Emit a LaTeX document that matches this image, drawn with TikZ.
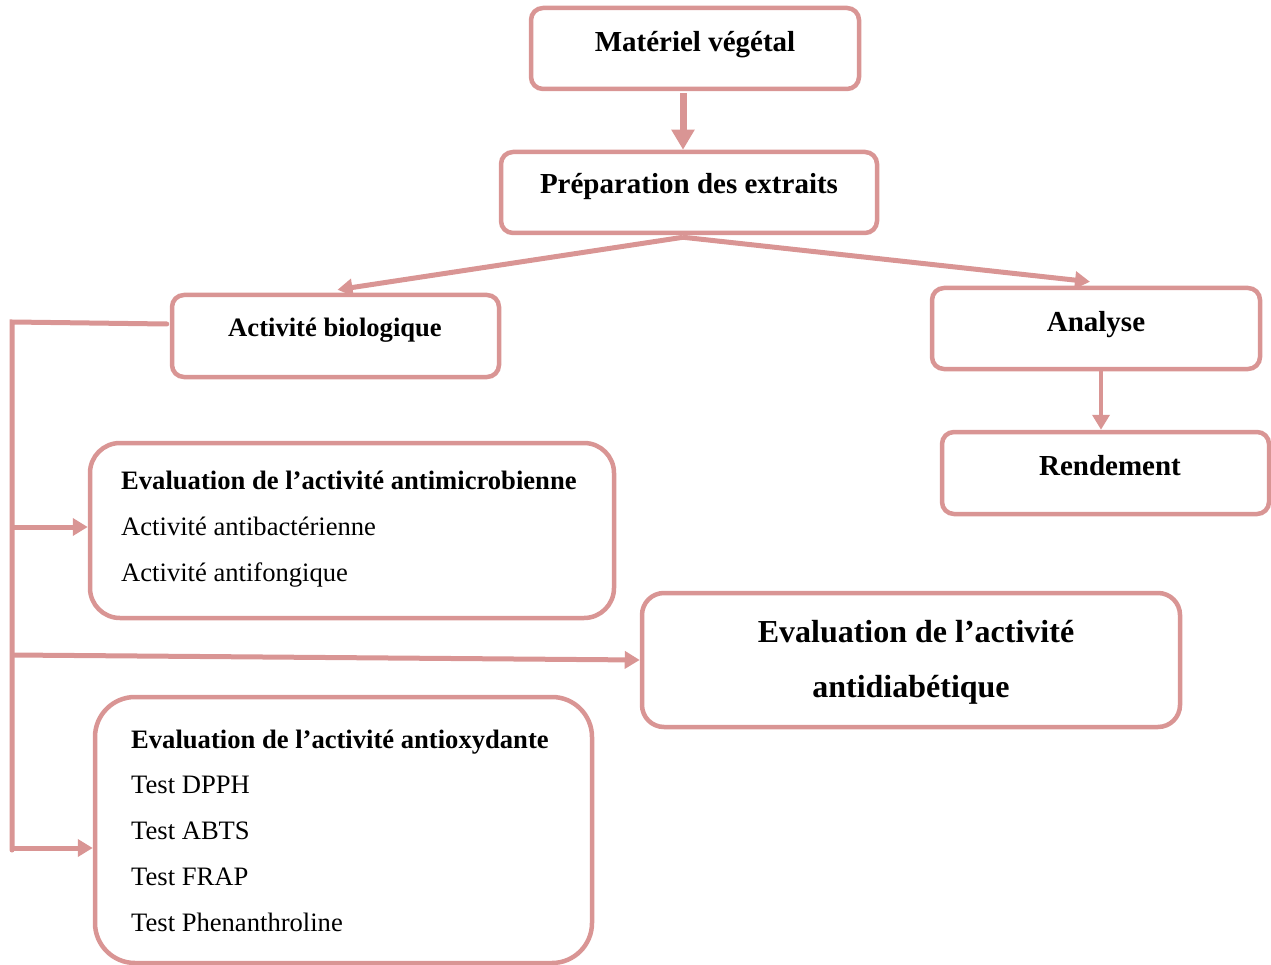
\documentclass[tikz,border=0pt]{standalone}
\usepackage{fontspec}
\setmainfont{Liberation Serif}
\usetikzlibrary{arrows.meta,calc}
\definecolor{pinkline}{RGB}{217,149,148}
\begin{document}
\begin{tikzpicture}[x=1pt,y=-1pt,
  box/.style={draw=pinkline,line width=4.5pt,rounded corners=12pt,fill=white,inner sep=0pt},
  conn/.style={draw=pinkline,line width=5pt,-{Triangle[length=15pt,width=17pt]}},
  thinconn/.style={draw=pinkline,line width=4.5pt,-{Triangle[length=15pt,width=17pt]}},
  plain/.style={draw=pinkline,line width=5pt},
  big/.style={font=\fontsize{29}{35}\selectfont\bfseries},
  hd/.style={font=\fontsize{26.6}{32}\selectfont\bfseries},
  tx/.style={font=\fontsize{26.6}{32}\selectfont},
  dia/.style={font=\fontsize{32}{38}\selectfont\bfseries}]
\useasboundingbox (0,0) rectangle (1271,965);
% boxes
\node[box,minimum width=328pt,minimum height=81pt] (mat) at (695,48.5) {};
\node[box,minimum width=376pt,minimum height=81pt] (prep) at (689,192.5) {};
\node[box,minimum width=327pt,minimum height=82pt] (bio) at (335.5,336) {};
\node[box,minimum width=328pt,minimum height=81pt] (ana) at (1096,328.5) {};
\node[box,minimum width=327pt,minimum height=82pt] (rend) at (1105.5,473) {};
\node[box,rounded corners=30pt,minimum width=524pt,minimum height=175pt] (amic) at (352,530.5) {};
\node[box,rounded corners=22pt,minimum width=538pt,minimum height=134pt] (diab) at (911,660) {};
\node[box,rounded corners=40pt,minimum width=497pt,minimum height=266pt] (aox) at (343.5,830) {};
% texts
\node[big,anchor=base] (matT) at (695,52) {Matériel végétal};
\node[big,anchor=base] (prepT) at (689,194) {Préparation des extraits};
\node[hd,anchor=base] (bioT) at (335,337) {Activité biologique};
\node[big,anchor=base] (anaT) at (1096,331) {Analyse};
\node[big,anchor=base] (rendT) at (1110,475) {Rendement};
\node[hd,anchor=base west,inner sep=0pt] (amic1) at (121,489) {Evaluation de l’activité antimicrobienne};
\node[tx,anchor=base west,inner sep=0pt] (amic2) at (121,535) {Activité antibactérienne};
\node[tx,anchor=base west,inner sep=0pt] (amic3) at (121,581) {Activité antifongique};
\node[dia,anchor=base] (diab1) at (916,642) {Evaluation de l’activité};
\node[dia,anchor=base] (diab2) at (911,697) {antidiabétique};
\node[hd,anchor=base west,inner sep=0pt] (aox1) at (131,748) {Evaluation de l’activité antioxydante};
\node[tx,anchor=base west,inner sep=0pt] (aox2) at (131,793) {Test DPPH};
\node[tx,anchor=base west,inner sep=0pt] (aox3) at (131,839) {Test ABTS};
\node[tx,anchor=base west,inner sep=0pt] (aox4) at (131,885) {Test FRAP};
\node[tx,anchor=base west,inner sep=0pt] (aox5) at (131,931) {Test Phenanthroline};
% helper coordinates
\coordinate (sTop) at (12,322);
\coordinate (sBot) at (12,850);
\coordinate (s1) at (12,527);
\coordinate (s2) at (12,655);
\coordinate (s3) at (12,848);
\coordinate (a1) at ($(ana.south)+(5,0)$);
\coordinate (m1) at ($(mat.south)+(-12,2)$);
\coordinate (p0) at ($(prep.south)+(-6,2)$);
% connectors
\draw[conn,line width=7pt,-{Triangle[length=20pt,width=22pt]}] (m1) -- (m1 |- prep.north);
\draw[conn] (p0) -- ($(bio.north)+(2,-3)$);
\draw[conn] (p0) -- ($(ana.north)+(-6,-4)$);
\draw[thinconn] (a1) -- (a1 |- rend.north);
\draw[plain,line cap=round] ($(bio.west)+(-3,-12)$) -- (sTop) -- (sBot);
\draw[conn] (s1) -- (s1 -| amic.west);
\draw[conn] (s2) -- (diab.west);
\draw[conn] (s3) -- (s3 -| aox.west);
\end{tikzpicture}
\end{document}
